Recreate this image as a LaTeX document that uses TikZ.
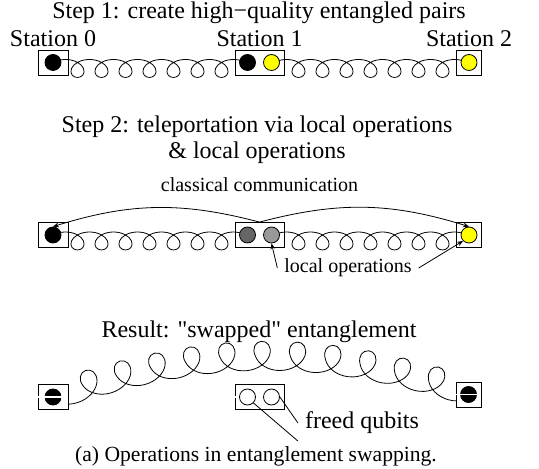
\documentclass[tikz,border=0pt]{standalone}
\usepackage{fontspec}
\setmainfont{Liberation Serif}
\usetikzlibrary{positioning}
\usetikzlibrary{arrows.meta}
\usetikzlibrary{backgrounds}
\usetikzlibrary{decorations.pathmorphing}
\definecolor{mydarkgray}{gray}{.4}
\definecolor{mylightgray}{gray}{.6}
\definecolor{myyellow}{RGB}{255,255,0}
\tikzset{
    common/.style={draw, rectangle, minimum height=12.5pt, inner sep=0pt},
    station/.style={common, minimum width=15pt},
    pairbox/.style={common, minimum width=24.5pt},
    endstation/.style={common, minimum width=12.5pt},
    qubit/.style={draw, circle, minimum size=8pt, inner sep=0pt},
    title/.style={font=\fontsize{12}{13}\selectfont},
    note/.style={font=\fontsize{10}{12}\selectfont},
    caption/.style={font=\fontsize{10.8}{13}\selectfont},
    stationlabel/.style={label={[title, label distance=-2pt]above:#1}},
    link/.style={decorate, decoration={coil, aspect=1.333, amplitude=4.5pt, segment length=12pt}},
    swapped/.style={decorate, decoration={coil, mirror, aspect=1.143, amplitude=7pt, segment length=17.5pt}},
    cut/.style={white, line width=0.7pt},
    classic/.style={-{Stealth[length=3pt, width=2.4pt]}},
}
\begin{document}
\begin{tikzpicture}[x=0.5pt, y=0.5pt]
    \useasboundingbox (0,0) rectangle (539,-469);

    % step 1
    \node[title] (title1) at (259,-13) {Step 1: create high−quality entangled pairs};
    \node[station, stationlabel=Station 0] (S0A) at (53,-62.5) {};
    \node[pairbox, stationlabel=Station 1] (S1A) at (259.5,-62.5) {};
    \node[endstation, stationlabel=Station 2] (S2A) at (469,-62.5) {};
    \node[qubit, fill=black] (S0Aq) at (S0A) {};
    \node[qubit, fill=black] (S1Aq1) at ([xshift=-6pt]S1A.center) {};
    \node[qubit, fill=myyellow] (S1Aq2) at ([xshift=6pt]S1A.center) {};
    \node[qubit, fill=myyellow] (S2Aq) at (S2A) {};

    % step 2
    \node[title, align=center] (title2) at (257,-140) {Step 2: teleportation via local operations\\\& local operations};
    \node[station] (S0B) at (53,-235) {};
    \node[pairbox] (S1B) at (259.5,-235) {};
    \node[endstation] (S2B) at (469,-235) {};
    \node[qubit, fill=black] (S0Bq) at (S0B) {};
    \node[qubit, fill=mydarkgray] (S1Bq1) at ([xshift=-6pt]S1B.center) {};
    \node[qubit, fill=mylightgray] (S1Bq2) at ([xshift=6pt]S1B.center) {};
    \node[qubit, fill=myyellow] (S2Bq) at (S2B) {};
    \node[note, above=11.6pt of S1B] (classic) {classical communication};
    \node[note] (lops) at (348,-268) {local operations};

    \draw[classic] (S1B.north) to[bend right=16] (S0Bq.north);
    \draw[classic] (S1B.north) to[bend left=16] (S2Bq.north);
    \draw[classic] (lops.west) -- (S1Bq2.south);
    \draw[classic] (lops.east) -- (S2Bq.south west);

    % result
    \node[title] (title3) at (259,-332) {Result: \textquotedbl swapped\textquotedbl{} entanglement};
    \node[station, fill=white] (S0C) at (53,-397) {};
    \node[endstation, fill=white] (S2C) at (468.5,-394.5) {};
    \node[pairbox] (FQ) at (259.5,-397) {};
    \node[qubit, fill=black] (S0Cq) at (S0C) {};
    \node[qubit, fill=black] (S2Cq) at (S2C) {};
    \draw[cut] (S0C.west) -- (S0C.east);
    \draw[cut] (S2C.west) -- (S2C.east);
    \draw[cut] (FQ.west) -- (FQ.east);
    \node[qubit] (FQq1) at ([xshift=-6pt]FQ.center) {};
    \node[qubit] (FQq2) at ([xshift=6pt]FQ.center) {};
    \node[title] (freed) at (362,-423) {freed qubits};

    \draw (freed.west) -- (FQq2.east);
    \draw (freed.south west) -- (FQq1.south east);

    \node[caption] (cap) at (256,-456) {(a) Operations in entanglement swapping.};

    % entangled pairs
    \begin{scope}[on background layer]
        \draw[link] ([shift={(-2.75pt,-3pt)}]S0Aq.center) -- ([shift={(2.5pt,-3pt)}]S1Aq1.center);
        \draw[link] ([shift={(-1.5pt,-3pt)}]S1Aq2.center) -- ([shift={(2.5pt,-3pt)}]S2Aq.center);
        \draw[link] ([shift={(-2.75pt,-3pt)}]S0Bq.center) -- ([shift={(2.5pt,-3pt)}]S1Bq1.center);
        \draw[link] ([shift={(-1.5pt,-3pt)}]S1Bq2.center) -- ([shift={(2.5pt,-3pt)}]S2Bq.center);
        \draw[swapped] ([xshift=-1.5pt]S0Cq.center) to[bend left=18] ([xshift=4.75pt]S2Cq.center);
    \end{scope}
\end{tikzpicture}
\end{document}
